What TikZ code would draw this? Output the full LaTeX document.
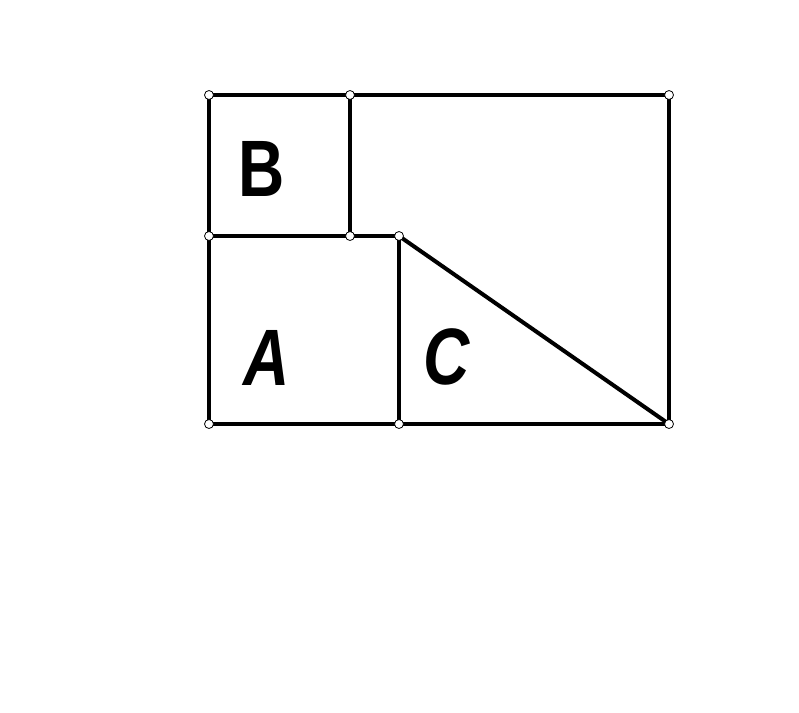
\documentclass[tikz,border=0pt]{standalone}
\usepackage{fontspec}
\setmainfont{Liberation Sans}
\begin{document}
\begin{tikzpicture}[x=1pt,y=-1pt,
  edge/.style={line width=4pt,line cap=round},
  vtx/.style={circle,draw=black,fill=white,line width=0.8pt,minimum size=9pt,inner sep=0pt},
  lab/.style={font=\fontsize{80}{80}\selectfont\bfseries,inner sep=0pt,xscale=0.8},
  slab/.style={lab,font=\fontsize{80}{80}\selectfont\bfseries\itshape}]
\useasboundingbox (0,0) rectangle (799,712);
\fill[white] (0,0) rectangle (799,712);
\coordinate (p1) at (209,95);
\coordinate (p2) at (350,95);
\coordinate (p3) at (669,95);
\coordinate (p4) at (209,236);
\coordinate (p5) at (350,236);
\coordinate (p6) at (399,236);
\coordinate (p7) at (209,424);
\coordinate (p8) at (399,424);
\coordinate (p9) at (669,424);
\draw[edge] (p1) -- (p3) -- (p9) -- (p7) -- cycle;
\draw[edge] (p2) -- (p5);
\draw[edge] (p4) -- (p6);
\draw[edge] (p6) -- (p8);
\draw[edge] (p6) -- (p9);
\foreach \p in {p1,p2,p3,p4,p5,p6,p7,p8,p9} \node[vtx] at (\p) {};
\node[lab] (B) at (262,169) {B};
\node[slab] (A) at (267,358) {A};
\node[slab] (C) at (447,357) {C};
\end{tikzpicture}
\end{document}
